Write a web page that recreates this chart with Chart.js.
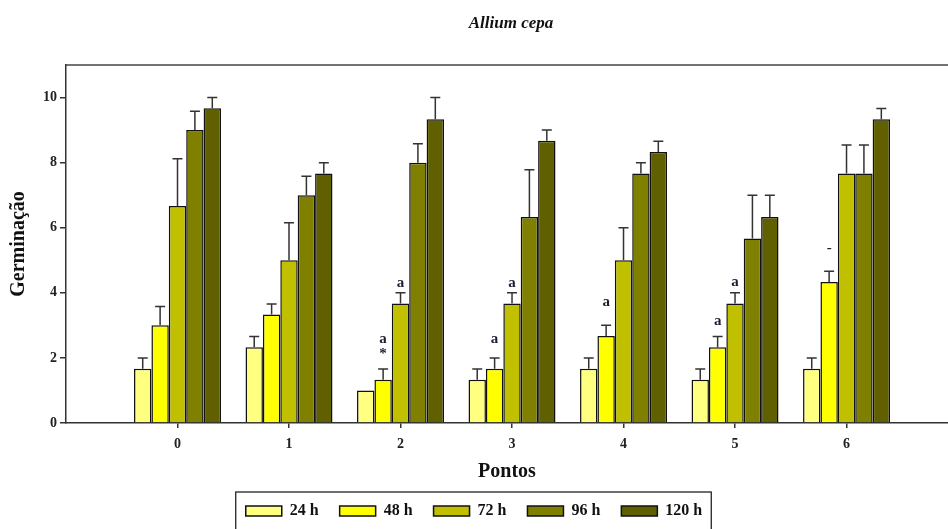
<!DOCTYPE html>
<html>
<head>
<meta charset="utf-8">
<script src="https://cdn.jsdelivr.net/npm/chart.js@4.4.1/dist/chart.umd.min.js"></script>
<style>
  body { margin: 0; background: #fff; overflow: hidden; }
</style>
</head>
<body>
<canvas id="chart" width="948" height="529"></canvas>
<script>
// Allium cepa - germinação por ponto e tempo
const pontos = [0, 1, 2, 3, 4, 5, 6];
const seriesLabels = ['24 h', '48 h', '72 h', '96 h', '120 h'];
const seriesColours = ['#FFFF80', '#FFFF00', '#C0C000', '#808000', '#606000'];

const germ24 = [1.67, 2.33, 1.0, 1.33, 1.67, 1.33, 1.67];
const germ48 = [3.0, 3.33, 1.33, 1.67, 2.67, 2.33, 4.33];
const germ72 = [6.67, 5.0, 3.67, 3.67, 5.0, 3.67, 7.67];
const germ96 = [9.0, 7.0, 8.0, 6.33, 7.67, 5.67, 7.67];
const germ120 = [9.67, 7.67, 9.33, 8.67, 8.33, 6.33, 9.33];

// error bar (upper) sizes
const err24 = [0.33, 0.33, 0, 0.33, 0.33, 0.33, 0.33];
const err48 = [0.58, 0.33, 0.33, 0.33, 0.33, 0.33, 0.33];
const err72 = [1.45, 1.15, 0.33, 0.33, 1.0, 0.33, 0.87];
const err96 = [0.58, 0.58, 0.58, 1.45, 0.33, 1.33, 0.87];
const err120 = [0.33, 0.33, 0.67, 0.33, 0.33, 0.67, 0.33];

// letters over bars: [ponto, serie, texto, valor y]
const marks = [
  [2, 1, '*', 2.12], [2, 1, 'a', 2.58], [2, 2, 'a', 4.29],
  [3, 1, 'a', 2.58], [3, 2, 'a', 4.29],
  [4, 1, 'a', 3.71],
  [5, 1, 'a', 3.14], [5, 2, 'a', 4.33],
  [6, 1, '-', 5.37]
];

const values = [germ24, germ48, germ72, germ96, germ120];
const errors = [err24, err48, err72, err96, err120];

Chart.defaults.font.family = '"Liberation Serif", "Times New Roman", serif';
Chart.defaults.color = '#222';

const errorBars = {
  id: 'errorBars',
  afterDatasetsDraw(chart) {
    const {ctx} = chart;
    const y = chart.scales.y;
    ctx.save();
    ctx.strokeStyle = '#333';
    ctx.lineWidth = 1.5;
    chart.data.datasets.forEach((ds, i) => {
      chart.getDatasetMeta(i).data.forEach((bar, j) => {
        const e = errors[i][j];
        if (!e) return;
        const top = y.getPixelForValue(values[i][j] + e);
        ctx.beginPath();
        ctx.moveTo(bar.x, bar.y);
        ctx.lineTo(bar.x, top);
        ctx.moveTo(bar.x - 5, top);
        ctx.lineTo(bar.x + 5, top);
        ctx.stroke();
      });
    });

    // letters
    ctx.fillStyle = '#1c1c33';
    ctx.font = 'bold 15px "Liberation Serif"';
    ctx.textAlign = 'center';
    ctx.textBaseline = 'middle';
    marks.forEach(([p, s, txt, v]) => {
      const bar = chart.getDatasetMeta(s).data[pontos.indexOf(p)];
      ctx.fillText(txt, bar.x, y.getPixelForValue(v));
    });
    ctx.restore();
  }
};

const frame = {
  id: 'frame',
  afterDraw(chart) {
    const {ctx, chartArea} = chart;
    ctx.save();
    // top border of the plot
    ctx.strokeStyle = '#444';
    ctx.lineWidth = 1.5;
    ctx.beginPath();
    ctx.moveTo(chartArea.left, chartArea.top);
    ctx.lineTo(chartArea.right, chartArea.top);
    ctx.stroke();

    // box around legend
    const boxes = chart.legend.legendHitBoxes;
    const first = boxes[0], last = boxes[boxes.length - 1];
    ctx.strokeStyle = '#111';
    ctx.lineWidth = 1.2;
    ctx.strokeRect(first.left - 10, first.top - 11, last.left + last.width + 9 - (first.left - 10), 60);

    // title
    ctx.fillStyle = '#111';
    ctx.font = 'italic bold 17px "Liberation Serif"';
    ctx.textAlign = 'center';
    ctx.textBaseline = 'middle';
    ctx.fillText('Allium cepa', (chartArea.left + chartArea.right) / 2 + 4, 24);
    ctx.restore();
  }
};

const ctx = document.getElementById('chart');
new Chart(ctx, {
  type: 'bar',
  data: {
    datasets: seriesLabels.map((label, i) => ({
      label: label,
      data: pontos.map((p, j) => ({x: p, y: values[i][j]})),
      backgroundColor: seriesColours[i],
      borderColor: '#111',
      borderWidth: 1.5,
      categoryPercentage: 0.78,
      barPercentage: 1.0
    }))
  },
  options: {
    responsive: false,
    animation: false,
    layout: {
      padding: { top: 65, left: 0, right: 0, bottom: 0 }
    },
    plugins: {
      tooltip: { enabled: false },
      legend: {
        position: 'bottom',
        labels: {
          boxWidth: 36,
          boxHeight: 10,
          padding: 21,
          color: '#111',
          font: { size: 16, weight: 'bold' }
        }
      }
    },
    scales: {
      x: {
        type: 'linear',
        min: -1,
        max: 6.91,
        offset: false,
        afterBuildTicks: s => { s.ticks = s.ticks.filter(t => t.value >= 0 && t.value <= 6); },
        afterFit: s => { s.height = 59; },
        grid: {
          offset: false,
          drawOnChartArea: false,
          drawTicks: true,
          tickLength: 5,
          color: '#333',
          lineWidth: 1.5
        },
        border: { display: true, color: '#333', width: 1.5 },
        ticks: {
          stepSize: 1,
          includeBounds: false,
          padding: 8,
          font: { size: 14, weight: 'bold' }
        },
        title: {
          display: true,
          text: 'Pontos',
          color: '#111',
          font: { size: 20, weight: 'bold', lineHeight: 1 },
          padding: 0
        }
      },
      y: {
        min: 0,
        max: 11,
        afterFit: s => { s.width = 66; },
        grid: {
          drawOnChartArea: false,
          drawTicks: true,
          tickLength: 6,
          color: '#333',
          lineWidth: 1.5
        },
        border: { display: true, color: '#333', width: 1.5 },
        ticks: {
          stepSize: 2,
          includeBounds: false,
          padding: 3,
          font: { size: 14, weight: 'bold' }
        },
        title: {
          display: true,
          text: 'Germinação',
          color: '#111',
          font: { size: 20, weight: 'bold' },
          padding: { top: 7, bottom: 0 }
        }
      }
    }
  },
  plugins: [errorBars, frame]
});
</script>
</body>
</html>
